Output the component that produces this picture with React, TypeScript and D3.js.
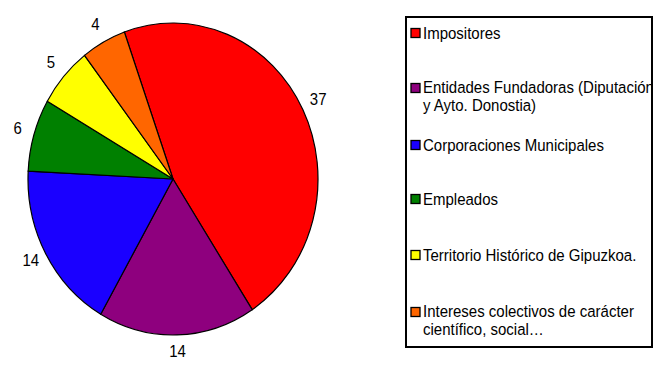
import React from "react";
import * as d3 from "d3";

const categories = [
  "Impositores",
  "Entidades Fundadoras (Diputación y Ayto. Donostia)",
  "Corporaciones Municipales",
  "Empleados",
  "Territorio Histórico de Gipuzkoa.",
  "Intereses colectivos de carácter científico, social…",
];
const legendLines = [
  ["Impositores"],
  ["Entidades Fundadoras (Diputación", "y Ayto. Donostia)"],
  ["Corporaciones Municipales"],
  ["Empleados"],
  ["Territorio Histórico de Gipuzkoa."],
  ["Intereses colectivos de carácter", "científico, social…"],
];
const values = [37, 14, 14, 6, 5, 4];
const colors = ["#ff0000", "#8e007e", "#1a00ff", "#008000", "#ffff00", "#ff6600"];

const W = 666;
const H = 369;
const cx = 173;
const cy = 179;
const rx = 145;
const ry = 156;
const startDeg = -19.6;
const legendY = [33, 88, 145, 199, 255, 312];

export default function App() {
  const pie = d3
    .pie<number>()
    .sort(null)
    .value((d) => d)
    .startAngle((startDeg * Math.PI) / 180)
    .endAngle(((startDeg + 360) * Math.PI) / 180);
  const arcs = pie(values);
  const arc = d3.arc<d3.PieArcDatum<number>>().innerRadius(0).outerRadius(rx);
  const sy = ry / rx;
  const labelR = rx + 17;
  const font = "'Liberation Sans', Arial, sans-serif";

  return (
    <svg
      width={W}
      height={H}
      style={{ position: "absolute", left: 0, top: 0, background: "#fff" }}
      fontFamily={font}
    >
      <defs>
        <clipPath id="legclip">
          <rect x={406} y={17} width={246} height={330} />
        </clipPath>
      </defs>
      <g transform={`translate(${cx},${cy}) scale(1,${sy})`}>
        {arcs.map((a, i) => (
          <path
            key={i}
            d={arc(a) || ""}
            fill={colors[i]}
            stroke="#000"
            strokeWidth={1.2}
            vectorEffect="non-scaling-stroke"
          />
        ))}
      </g>
      {arcs.map((a, i) => {
        const m = (a.startAngle + a.endAngle) / 2;
        const x = cx + Math.sin(m) * labelR;
        const y = cy - Math.cos(m) * labelR * sy - 2;
        return (
          <text
            key={i}
            transform={`translate(${x},${y}) scale(1,1.1)`}
            fontSize={15}
            textAnchor="middle"
            dominantBaseline="central"
            fill="#000"
          >
            {values[i]}
          </text>
        );
      })}
      <rect x={406} y={17} width={246} height={330} fill="#fff" stroke="#000" strokeWidth={2} />
      <g clipPath="url(#legclip)">
        {categories.map((c, i) => {
          const multi = legendLines[i].length > 1;
          return (
            <g key={c}>
              <rect
                x={411}
                y={legendY[i] - 4.5}
                width={9}
                height={9}
                fill={colors[i]}
                stroke="#000"
                strokeWidth={1.3}
              />
              {legendLines[i].map((ln, j) => (
                <text
                  key={j}
                  transform={`translate(423,${legendY[i] + (multi ? -1 : 0) + j * 18.2}) scale(1,1.076)`}
                  fontSize={15}
                  dominantBaseline="central"
                  fill="#000"
                >
                  {ln}
                </text>
              ))}
            </g>
          );
        })}
      </g>
    </svg>
  );
}
